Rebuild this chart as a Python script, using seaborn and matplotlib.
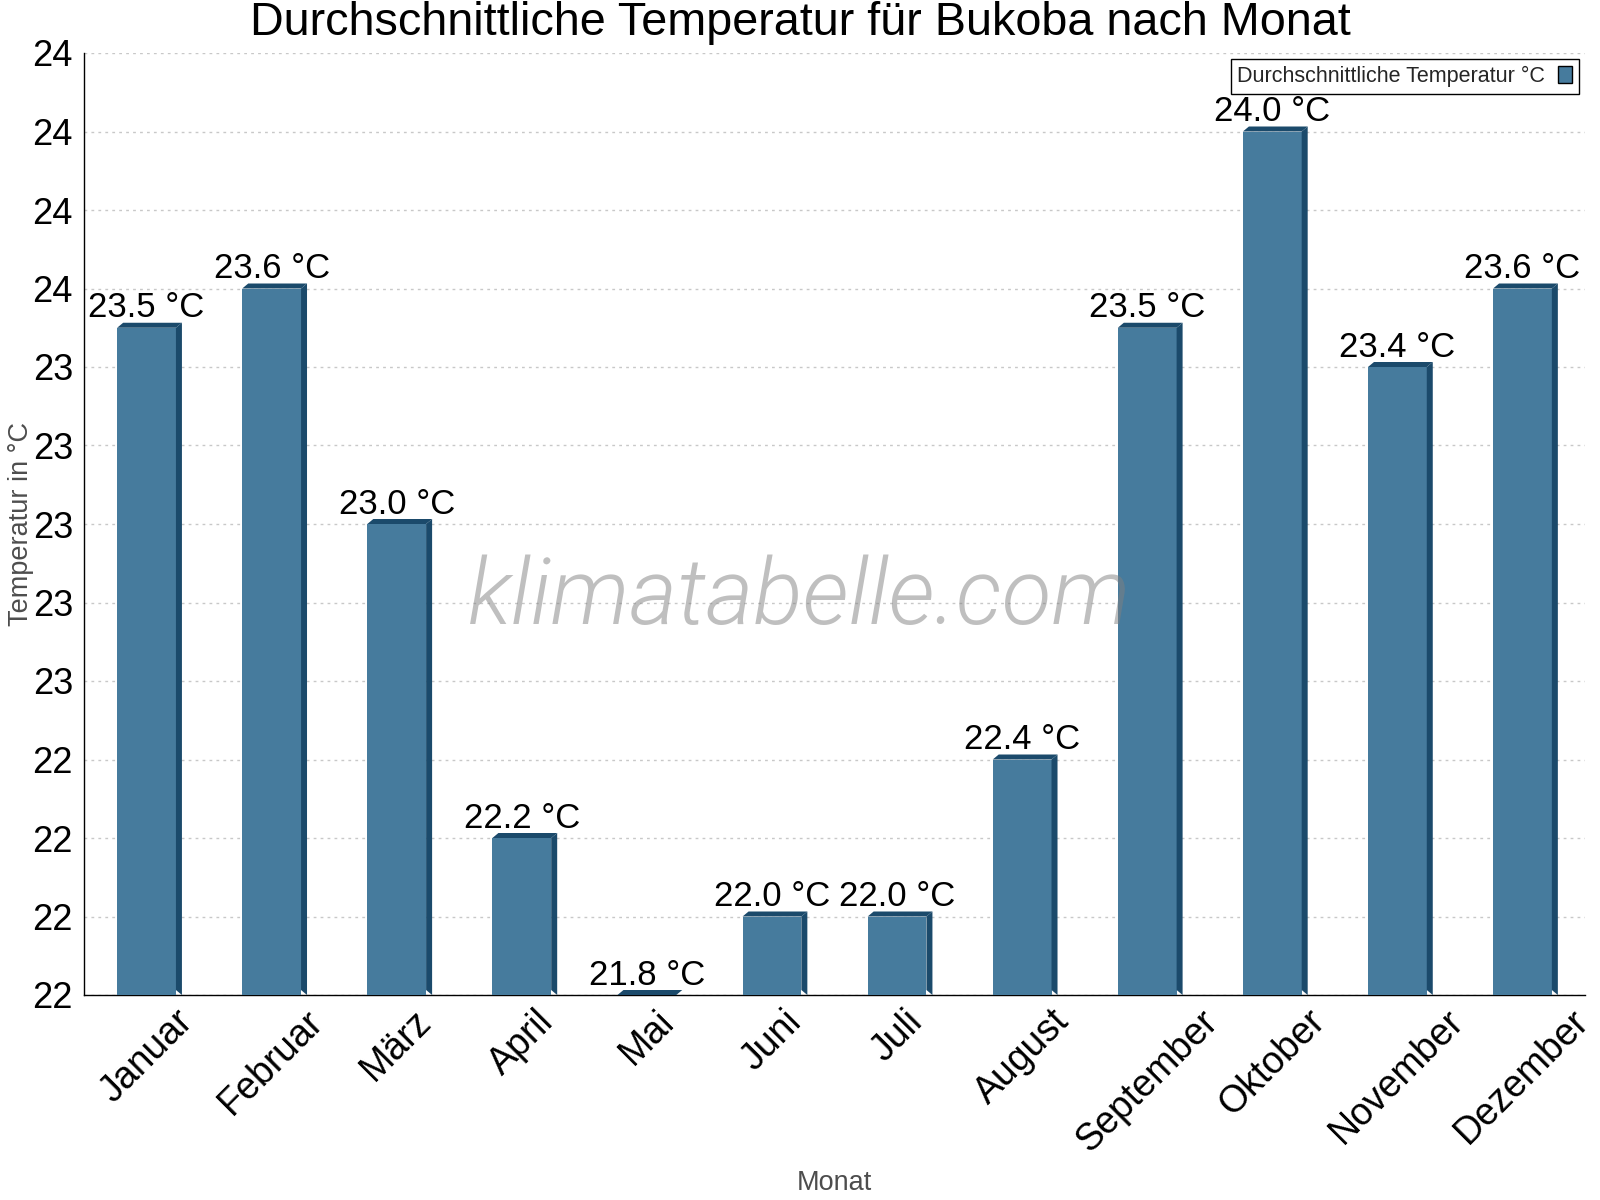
import numpy as np
import pandas as pd
import matplotlib
matplotlib.use("Agg")
import matplotlib.pyplot as plt
import seaborn as sns
from matplotlib.patches import Polygon
from matplotlib.ticker import MultipleLocator, FuncFormatter, FixedLocator

# ---- data ----
months = ["Januar", "Februar", "März", "April", "Mai", "Juni", "Juli",
          "August", "September", "Oktober", "November", "Dezember"]
temps = [23.5, 23.6, 23.0, 22.2, 21.8, 22.0, 22.0, 22.4, 23.5, 24.0, 23.4, 23.6]
series_label = "Durchschnittliche Temperatur °C"
title = "Durchschnittliche Temperatur für Bukoba nach Monat"
xlabel = "Monat"
ylabel = "Temperatur in °C"
watermark = "klimatabelle.com"

front_color = "#467b9d"
dark_color = "#1b4a6b"

sns.set_theme(style="white")
plt.rcParams['font.family'] = ['Liberation Sans', 'DejaVu Sans']

fig = plt.figure(figsize=(16, 12), dpi=100)
ax = fig.add_axes([84 / 1600, 1 - 995 / 1200, 1501 / 1600, 942 / 1200])

df = pd.DataFrame({"Monat": months, "Temp": temps})
sns.barplot(data=df, x="Monat", y="Temp", color=front_color, saturation=1,
            width=0.47, ax=ax, errorbar=None, linewidth=0, zorder=3)

ax.set_xlim(-0.5, len(months) - 0.5)
ax.set_ylim(21.8, 24.2)

# 3D effect (side and top faces), offset in pixels
dx, dy = 6, 5
trans = ax.transData
inv = trans.inverted()
ybase = ax.get_ylim()[0]
for p in list(ax.patches):
    x0 = p.get_x()
    w = p.get_width()
    top = p.get_y() + p.get_height()
    (xl, yt) = trans.transform((x0, top))
    (xr, yb) = trans.transform((x0 + w, ybase))
    top_pts = [(xl, yt), (xr, yt), (xr + dx, yt + dy), (xl + dx, yt + dy)]
    ax.add_patch(Polygon(inv.transform(top_pts), closed=True, facecolor=dark_color,
                         edgecolor='none', zorder=3, clip_on=False))
    if yt - yb > dy:
        side_pts = [(xr, yt), (xr + dx, yt + dy), (xr + dx, yb), (xr, yb + dy)]
        ax.add_patch(Polygon(inv.transform(side_pts), closed=True, facecolor=dark_color,
                             edgecolor='none', zorder=3))

# value labels
ax.bar_label(ax.containers[0], labels=[f"{v:.1f} °C" for v in temps],
             padding=2.5, fontsize=25, color="black", zorder=5)

# axes styling
for s in ["top", "right"]:
    ax.spines[s].set_visible(False)
for s in ["left", "bottom"]:
    ax.spines[s].set_color("black")
    ax.spines[s].set_linewidth(1)

ax.yaxis.set_major_locator(MultipleLocator(0.2))
ax.yaxis.set_major_formatter(FuncFormatter(lambda v, pos: f"{v:.0f}"))
ax.tick_params(axis="y", direction="inout", length=8, width=1, color="black",
               labelsize=26, pad=4, labelcolor="black")

ax.xaxis.set_minor_locator(FixedLocator(np.arange(-0.5, len(months), 1.0)))
ax.tick_params(axis="x", which="minor", direction="inout", length=10, width=1, color="black")
ax.tick_params(axis="x", which="major", length=0, labelsize=27, pad=6, labelcolor="black")
for lab in ax.get_xticklabels():
    lab.set_rotation(45)
    lab.set_ha("center")

ax.yaxis.grid(True, linestyle=(0, (2, 3)), color="#c8c8c8", linewidth=1)
ax.set_axisbelow(True)

ax.set_xlabel(xlabel, fontsize=19.5, color="#4d4d4d")
ax.xaxis.set_label_coords(0.5, -0.186)
ax.set_ylabel(ylabel, fontsize=19.5, color="#4d4d4d")
ax.yaxis.set_label_coords(-0.0336, 0.5)

fig.suptitle(title, x=0.5, y=0.981, va="center", fontsize=33.7, color="black")

# legend
leg = ax.legend([ax.containers[0]], [series_label], loc="upper right",
                bbox_to_anchor=(1.0, 1.0), borderaxespad=0.3, fontsize=15.5,
                frameon=True, fancybox=False, framealpha=1, edgecolor="black",
                markerfirst=False, handlelength=0.66, handleheight=0.8,
                handletextpad=0.6, borderpad=0.3)
leg.get_frame().set_linewidth(1)
for h in leg.legend_handles:
    h.set_edgecolor("black")
    h.set_linewidth(1)
leg.set_zorder(10)

# watermark
fig.text(0.5, 1 - 624 / 1200, watermark, ha="center", va="baseline",
         fontsize=66, fontfamily="Roboto", fontweight=300, style="italic",
         color="#808080", alpha=0.5, zorder=10)

fig.savefig("out.png", dpi=100)
